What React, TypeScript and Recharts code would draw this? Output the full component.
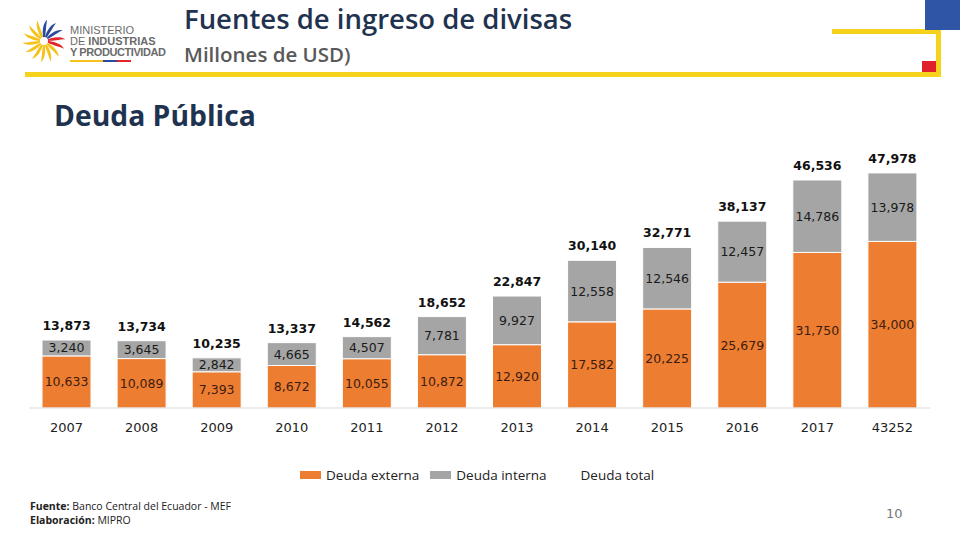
import { Bar, ComposedChart, LabelList, Line, XAxis, YAxis } from 'recharts'

const years = ['2007', '2008', '2009', '2010', '2011', '2012', '2013', '2014', '2015', '2016', '2017', '43252']
const externa = [10633, 10089, 7393, 8672, 10055, 10872, 12920, 17582, 20225, 25679, 31750, 34000]
const interna = [3240, 3645, 2842, 4665, 4507, 7781, 9927, 12558, 12546, 12457, 14786, 13978]
const total = [13873, 13734, 10235, 13337, 14562, 18652, 22847, 30140, 32771, 38137, 46536, 47978]

const data = years.map((y, i) => ({ year: y, externa: externa[i], interna: interna[i], total: total[i] }))

const fmt = (v: number) => v.toLocaleString('en-US')
const labelFont = '"DejaVu Sans", Verdana, sans-serif'
const uiFont = '"Open Sans", "Noto Sans", sans-serif'

function Logo() {
  const petals = Array.from({ length: 14 }, (_, i) => i)
  const colorFor = (i: number) => (i < 7 ? '#f4c21b' : i < 10 ? '#2b4a9b' : i < 12 ? '#e0262b' : '#f4c21b')
  return (
    <svg width={150} height={60} style={{ position: 'absolute', left: 20, top: 12 }}>
      <g transform="translate(24,29)">
        {petals.map((i) => (
          <path
            key={i}
            d="M0,0 C6,-6 14,-10 20,-8 C14,-6 8,-2 0,0 Z"
            fill={colorFor(i)}
            transform={`rotate(${i * (360 / 14) + 120})`}
          />
        ))}
        <circle r={4} fill="#fff" />
      </g>
      <text x={50} y={22} fontFamily="Liberation Sans, Arial" fontSize={11} fill="#6b6b6b">MINISTERIO</text>
      <text x={50} y={33} fontFamily="Liberation Sans, Arial" fontSize={11} fill="#6b6b6b">
        DE <tspan fontWeight="bold">INDUSTRIAS</tspan>
      </text>
      <text x={50} y={44} fontFamily="Liberation Sans, Arial" fontSize={11} fontWeight="bold" fill="#6b6b6b" textLength={96}>Y PRODUCTIVIDAD</text>
      <rect x={50} y={48} width={33} height={2} fill="#f4c21b" />
      <rect x={83} y={48} width={14} height={2} fill="#2b4a9b" />
      <rect x={97} y={48} width={14} height={2} fill="#e0262b" />
    </svg>
  )
}

export default function App() {
  return (
    <div style={{ position: 'fixed', left: 0, top: 0, width: 960, height: 540, background: '#fff', overflow: 'hidden' }}>
      <Logo />
      <div style={{ position: 'absolute', left: 184, top: 0, fontFamily: uiFont, fontWeight: 600, fontSize: 27.5, color: '#1f3350', lineHeight: '38px' }}>
        Fuentes de ingreso de divisas
      </div>
      <div style={{ position: 'absolute', left: 184, top: 40, fontFamily: uiFont, fontWeight: 600, fontSize: 20.5, color: '#595959', lineHeight: '28px' }}>
        Millones de USD)
      </div>
      <div style={{ position: 'absolute', left: 25, top: 72, width: 916, height: 5, background: '#f6d21d' }} />
      <div style={{ position: 'absolute', left: 832, top: 29, width: 109, height: 5, background: '#f6d21d' }} />
      <div style={{ position: 'absolute', left: 936, top: 29, width: 5, height: 48, background: '#f6d21d' }} />
      <div style={{ position: 'absolute', left: 922, top: 61, width: 14, height: 11, background: '#e0202a' }} />
      <div style={{ position: 'absolute', left: 925, top: 0, width: 35, height: 30, background: '#2f56a6' }} />
      <div style={{ position: 'absolute', left: 54, top: 95, fontFamily: uiFont, fontWeight: 700, fontSize: 28.3, color: '#1f3350', lineHeight: '40px' }}>
        Deuda Pública
      </div>

      <div style={{ position: 'absolute', left: 0, top: 140 }}>
        <ComposedChart width={960} height={310} data={data} margin={{ top: 23, right: 30, bottom: 0, left: 29 }}>
          <XAxis
            dataKey="year"
            height={42}
            tickLine={false}
            tickMargin={9}
            axisLine={{ stroke: '#d9d9d9' }}
            tick={{ fill: '#222', fontSize: 13, fontFamily: labelFont }}
            interval={0}
          />
          <YAxis hide domain={[0, 50000]} />
          <Bar dataKey="externa" stackId="d" barSize={49} fill="#ED7D31" stroke="#fff" strokeWidth={1} isAnimationActive={false}>
            <LabelList dataKey="externa" position="center" formatter={fmt} fill="#3d1c10" fontSize={12.5} fontFamily={labelFont} />
          </Bar>
          <Bar dataKey="interna" stackId="d" barSize={49} fill="#A5A5A5" stroke="#fff" strokeWidth={1} isAnimationActive={false}>
            <LabelList dataKey="interna" position="center" formatter={fmt} fill="#1a1a1a" fontSize={12.5} fontFamily={labelFont} />
          </Bar>
          <Line dataKey="total" stroke="none" dot={false} activeDot={false} isAnimationActive={false}>
            <LabelList dataKey="total" position="top" offset={10} formatter={fmt} fill="#111" fontSize={12.5} fontWeight="bold" fontFamily={labelFont} />
          </Line>
        </ComposedChart>
      </div>

      <div style={{ position: 'absolute', left: 300, top: 466, display: 'flex', alignItems: 'center', fontFamily: uiFont, fontSize: 13.5, color: '#222' }}>
        <span style={{ width: 21, height: 8, background: '#ED7D31', marginRight: 5 }} />
        <span style={{ marginRight: 11 }}>Deuda externa</span>
        <span style={{ width: 21, height: 8, background: '#A5A5A5', marginRight: 5 }} />
        <span style={{ marginRight: 34 }}>Deuda interna</span>
        <span>Deuda total</span>
      </div>

      <div style={{ position: 'absolute', left: 30, top: 499, fontFamily: uiFont, fontSize: 10.5, color: '#222', lineHeight: '14px' }}>
        <div><b>Fuente:</b> Banco Central del Ecuador - MEF</div>
        <div><b>Elaboración:</b> MIPRO</div>
      </div>
      <div style={{ position: 'absolute', left: 886, top: 506, fontFamily: labelFont, fontSize: 13, color: '#777' }}>10</div>
    </div>
  )
}
